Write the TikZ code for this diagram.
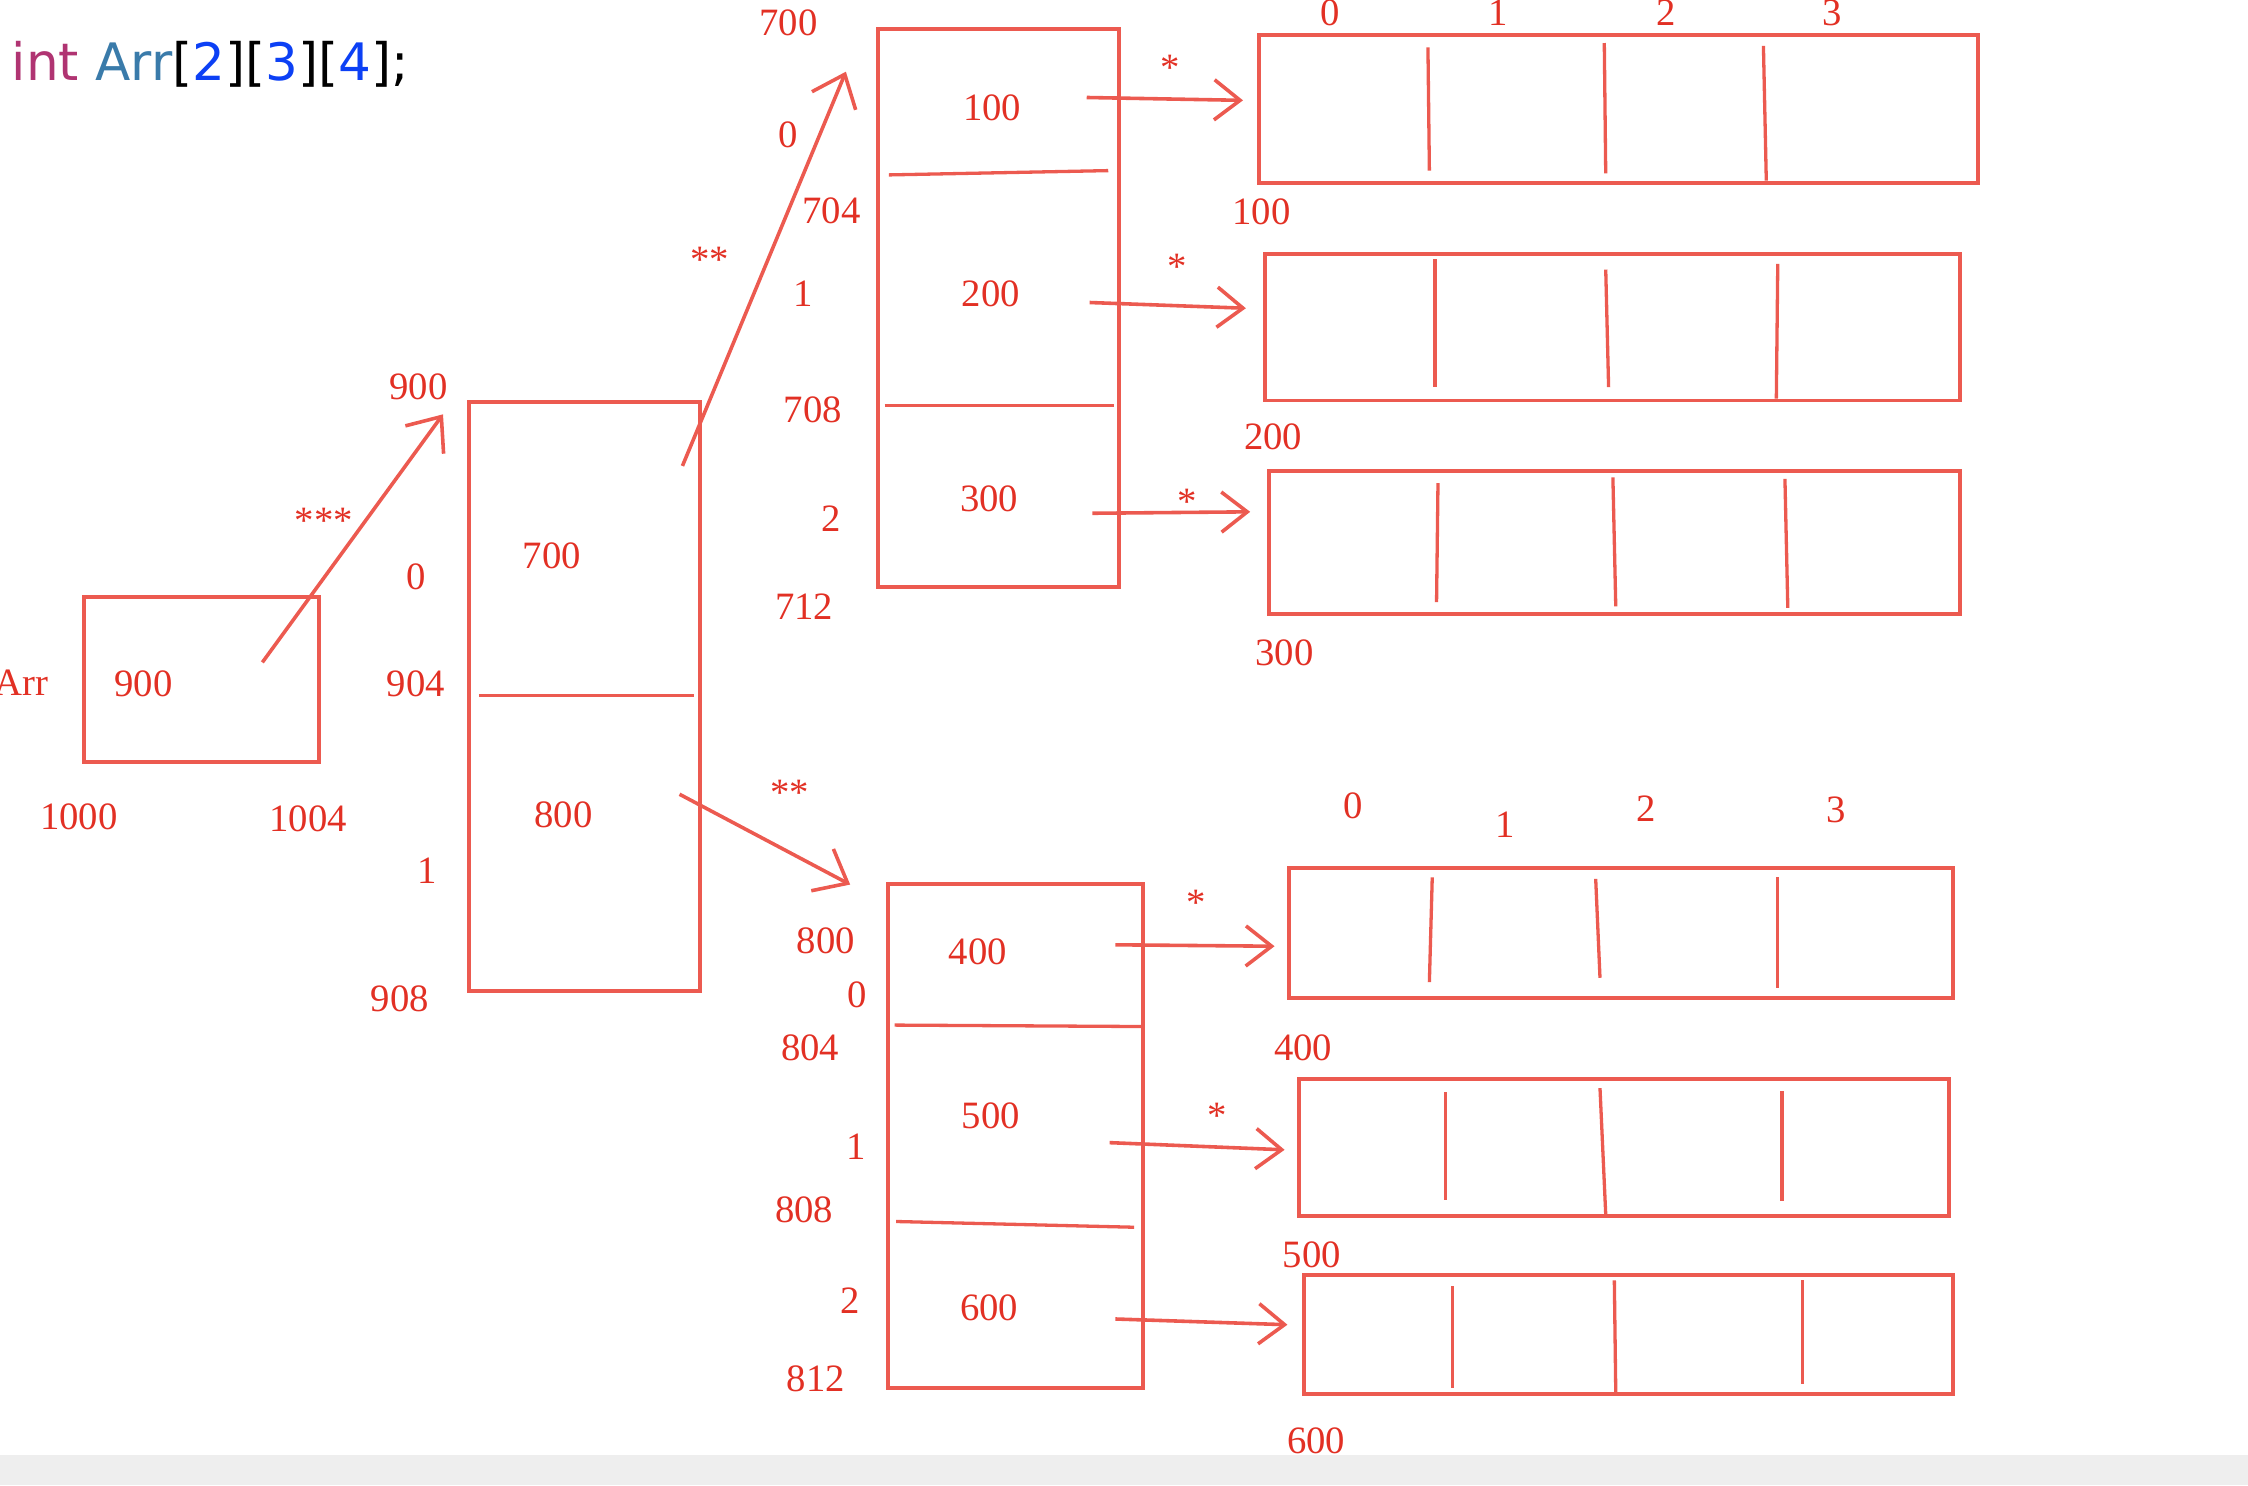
\documentclass[tikz,border=0pt]{standalone}
\usepackage{fontspec}
\setmainfont{Liberation Serif}
\newfontfamily\codefont{DejaVu Sans}
\usetikzlibrary{arrows.meta}
\definecolor{lred}{RGB}{236,90,80}
\definecolor{tred}{RGB}{226,48,36}
\definecolor{kwpink}{RGB}{176,52,114}
\definecolor{idblue}{RGB}{58,123,170}
\definecolor{numblue}{RGB}{12,64,245}
\definecolor{band}{RGB}{238,238,238}
\begin{document}
\begin{tikzpicture}[x=1pt,y=-1pt,
  box/.style={draw=lred, line width=2.7pt, inner sep=0pt, anchor=north west},
  divider/.style={draw=lred, line width=2.3pt},
  num/.style={text=tred, font=\fontsize{27}{30}\selectfont, inner sep=0pt},
  ptr/.style={draw=lred, line width=2.5pt, -{Straight Barb[length=18pt,width=28pt]}},
  bigptr/.style={draw=lred, line width=2.5pt, -{Straight Barb[length=20pt,width=33pt]}}]
\useasboundingbox (0,0) rectangle (1568,1036);
\fill[band] (0,1015) rectangle (1568,1036);

% declaration
\node[anchor=base west, inner sep=0pt, font=\codefont\fontsize{36}{42}\selectfont] (decl) at (8,56)
  {\textcolor{kwpink}{int} \textcolor{idblue}{Arr}[\textcolor{numblue}{2}][\textcolor{numblue}{3}][\textcolor{numblue}{4}];};

% level 0 : Arr
\node[box, minimum width=164, minimum height=115] (arr) at (57,415) {};
\node[num] (arrval) at (100,477) {900};
\node[num, anchor=east] (arrname) at (34,476) {Arr};
\node[num] (a1000) at (55,570) {1000};
\node[num] (a1004) at (215,571) {1004};

% level 1
\node[box, minimum width=161, minimum height=411] (lone) at (326,279) {};
\draw[divider] (334,485) -- (484,485);
\node[num] (v700) at (385,388) {700};
\node[num] (v800) at (393,568) {800};
\node[num] (b900) at (292,270) {900};
\node[num] (i0a) at (290,402) {0};
\node[num] (b904) at (290,477) {904};
\node[num] (i1a) at (298,607) {1};
\node[num] (b908) at (279,697) {908};

% level 2 top
\node[box, minimum width=168, minimum height=389] (ltwoa) at (611,19) {};
\draw[divider] (620,122) -- (773,119);
\draw[divider] (617,283) -- (777,283);
\node[num] (v100) at (692,75) {100};
\node[num] (v200) at (691,205) {200};
\node[num] (v300) at (690,348) {300};
\node[num] (b700) at (550,16) {700};
\node[num] (i0b) at (550,94) {0};
\node[num] (b704) at (580,147) {704};
\node[num] (i1b) at (560,205) {1};
\node[num] (b708) at (567,286) {708};
\node[num] (i2b) at (580,362) {2};
\node[num] (b712) at (561,423) {712};

% level 2 bottom
\node[box, minimum width=178, minimum height=352] (ltwob) at (618,615) {};
\draw[divider] (624,715) -- (796,716);
\draw[divider] (625,852) -- (791,856);
\node[num] (v400) at (682,664) {400};
\node[num] (v500) at (691,778) {500};
\node[num] (v600) at (690,912) {600};
\node[num] (b800) at (576,656) {800};
\node[num] (i0c) at (598,694) {0};
\node[num] (b804) at (565,731) {804};
\node[num] (i1c) at (597,800) {1};
\node[num] (b808) at (561,844) {808};
\node[num] (i2c) at (593,907) {2};
\node[num] (b812) at (569,962) {812};

% level 3 top group
\node[box, minimum width=501, minimum height=103] (rA) at (877,23) {};
\draw[divider] (996,33) -- (997,119);
\draw[divider] (1119,30) -- (1120,121);
\draw[divider] (1230,32) -- (1232,126);
\node[num] (ta0) at (928,9) {0};
\node[num] (ta1) at (1045,9) {1};
\node[num] (ta2) at (1162,9) {2};
\node[num] (ta3) at (1278,9) {3};
\node[num] (b100) at (880,148) {100};

\node[box, minimum width=485, minimum height=102] (rB) at (881,176) {};
\draw[divider] (1001,181) -- (1001,270);
\draw[divider] (1120,188) -- (1122,270);
\draw[divider] (1240,184) -- (1239,278);
\node[num] (b200) at (888,305) {200};

\node[box, minimum width=482, minimum height=100] (rC) at (884,327) {};
\draw[divider] (1003,337) -- (1002,420);
\draw[divider] (1125,333) -- (1127,423);
\draw[divider] (1245,334) -- (1247,424);
\node[num] (b300) at (896,455) {300};

% level 3 bottom group
\node[num] (tb0) at (944,562) {0};
\node[num] (tb1) at (1050,575) {1};
\node[num] (tb2) at (1148,564) {2};
\node[num] (tb3) at (1281,565) {3};

\node[box, minimum width=463, minimum height=91] (rD) at (898,604) {};
\draw[divider] (999,612) -- (997,685);
\draw[divider] (1113,613) -- (1116,682);
\draw[divider] (1240,612) -- (1240,689);
\node[num] (b400) at (909,731) {400};

\node[box, minimum width=453, minimum height=96] (rE) at (905,751) {};
\draw[divider] (1008,762) -- (1008,837);
\draw[divider] (1116,759) -- (1120,847);
\draw[divider] (1243,761) -- (1243,838);
\node[num] (b500) at (915,875) {500};

\node[box, minimum width=453, minimum height=83] (rF) at (908,888) {};
\draw[divider] (1013,897) -- (1013,968);
\draw[divider] (1126,893) -- (1127,971);
\draw[divider] (1257,893) -- (1257,965);
\node[num] (b600) at (918,1005) {600};

% pointer connectors
\coordinate (s0) at (183,462);  \coordinate (e0) at (309,289);
\coordinate (s1) at (476,325);  \coordinate (e1) at (590,50);
\coordinate (s2) at (474,554);  \coordinate (e2) at (593,617);
\draw[bigptr] (s0) -- (e0);
\draw[bigptr] (s1) -- (e1);
\draw[bigptr] (s2) -- (e2);
\node[num] (st0) at (226,363) {***};
\node[num] (st1) at (495,181) {**};
\node[num] (st2) at (551,553) {**};

\coordinate (sA) at (758,68);  \coordinate (eA) at (867,70);
\coordinate (sB) at (760,211); \coordinate (eB) at (869,215);
\coordinate (sC) at (762,358); \coordinate (eC) at (872,357);
\coordinate (sD) at (778,659); \coordinate (eD) at (889,660);
\coordinate (sE) at (774,797); \coordinate (eE) at (896,802);
\coordinate (sF) at (778,920); \coordinate (eF) at (898,924);
\draw[ptr] (sA) -- (eA);
\draw[ptr] (sB) -- (eB);
\draw[ptr] (sC) -- (eC);
\draw[ptr] (sD) -- (eD);
\draw[ptr] (sE) -- (eE);
\draw[ptr] (sF) -- (eF);
\node[num] (stA) at (816,47) {*};
\node[num] (stB) at (821,186) {*};
\node[num] (stC) at (828,350) {*};
\node[num] (stD) at (834,630) {*};
\node[num] (stE) at (849,778) {*};
\end{tikzpicture}
\end{document}
